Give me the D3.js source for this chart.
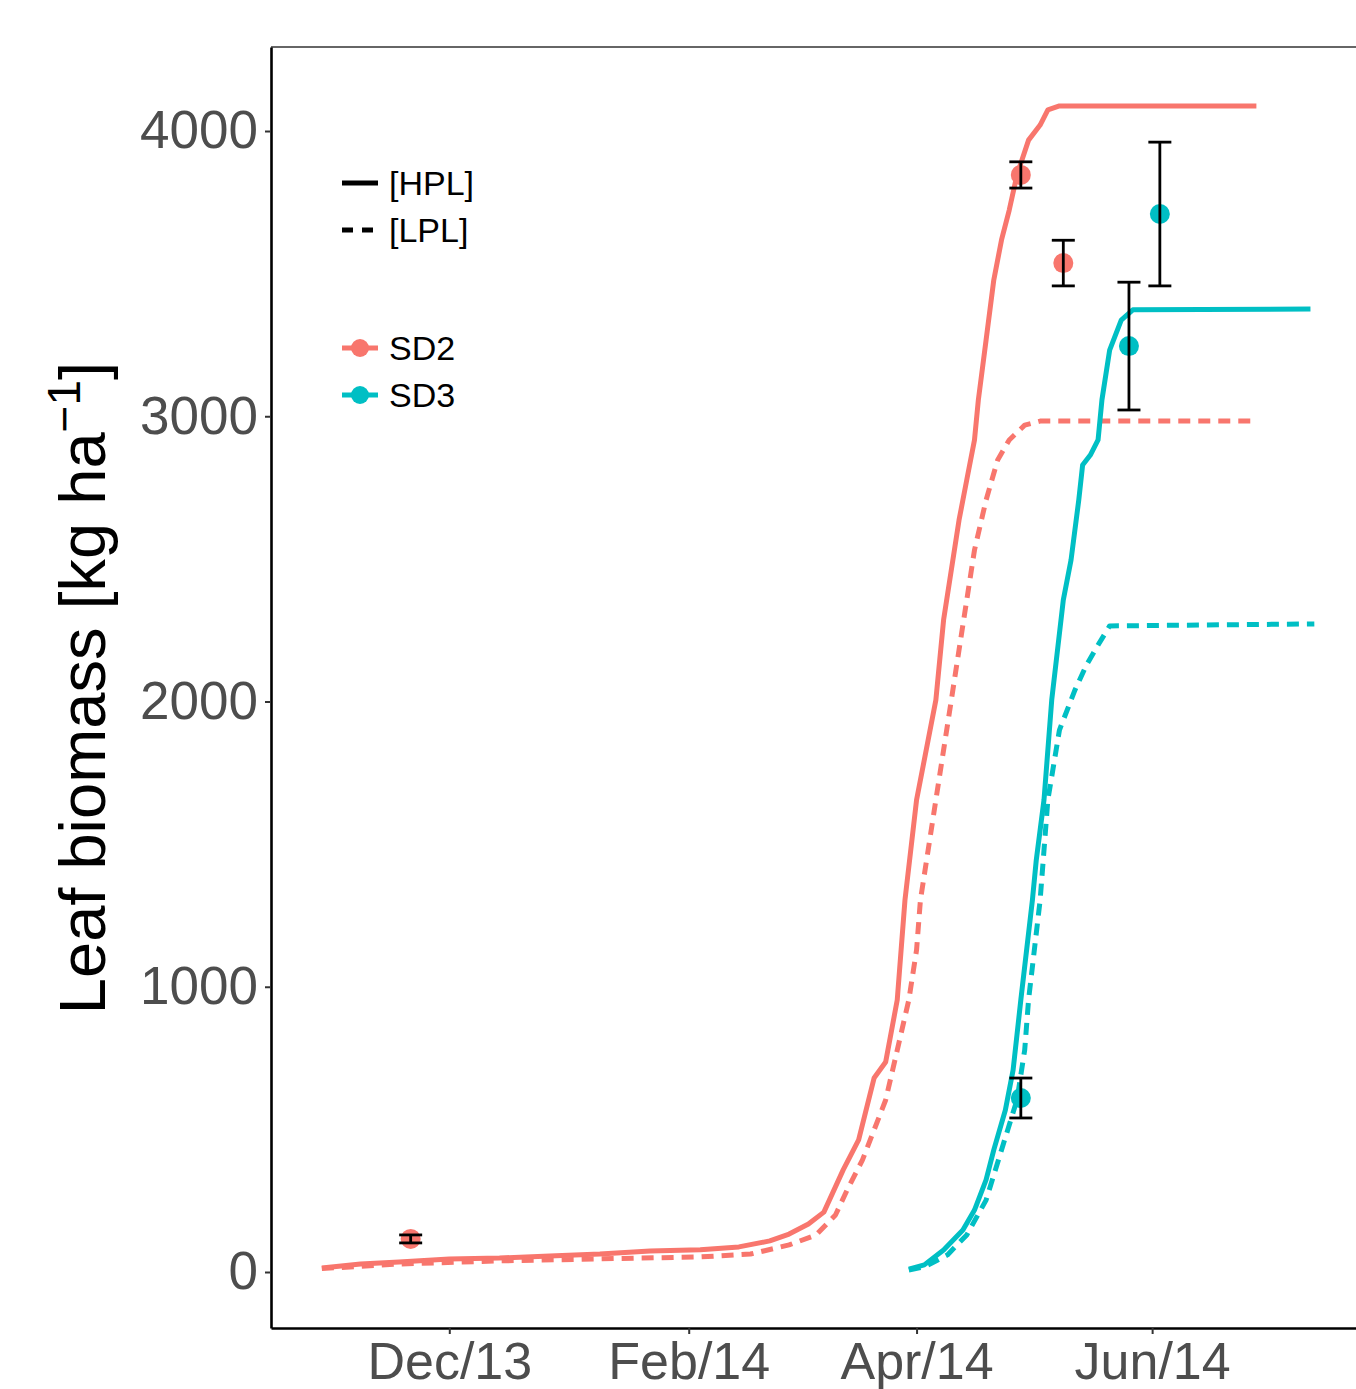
<!DOCTYPE html>
<html>
<head>
<meta charset="utf-8">
<script src="https://cdn.jsdelivr.net/npm/d3@7"></script>
<style>
  html, body { margin: 0; padding: 0; background: #fff; }
  svg { display: block; font-family: "Liberation Sans", Arial, Helvetica, sans-serif; }
</style>
</head>
<body>
<svg id="chart" width="1356" height="1389"></svg>
<script>
// ---------------- data ----------------
const sd2HplDates = ["2013-10-29","2013-11-08","2013-11-18","2013-12-01","2013-12-14","2013-12-27","2014-01-09","2014-01-22","2014-02-04","2014-02-14","2014-02-22","2014-02-27","2014-03-04","2014-03-08","2014-03-13","2014-03-17","2014-03-21","2014-03-24","2014-03-27","2014-03-29","2014-04-01","2014-04-04","2014-04-06","2014-04-08","2014-04-12","2014-04-14","2014-04-16","2014-04-17","2014-04-19","2014-04-21","2014-04-23","2014-04-25","2014-04-27","2014-04-30","2014-05-03","2014-05-05","2014-05-08","2014-06-28"];
const sd2HplValues = [14,28,35,46,49,56,63,74,78,88,109,133,168,210,358,463,680,736,954,1304,1655,1865,2005,2286,2636,2777,2917,3057,3267,3478,3618,3723,3846,3968,4021,4074,4088,4088];

const sd2LplDates = ["2013-10-29","2013-11-18","2013-12-14","2014-01-09","2014-02-04","2014-02-17","2014-02-27","2014-03-06","2014-03-11","2014-03-14","2014-03-18","2014-03-21","2014-03-24","2014-03-27","2014-03-30","2014-04-01","2014-04-02","2014-04-04","2014-04-06","2014-04-08","2014-04-10","2014-04-12","2014-04-14","2014-04-16","2014-04-19","2014-04-22","2014-04-25","2014-04-29","2014-05-03","2014-06-28"];
const sd2LplValues = [12,28,39,46,53,63,95,130,200,287,393,498,603,778,954,1129,1304,1479,1655,1830,2005,2181,2356,2531,2706,2847,2917,2969,2983,2983];

const sd3HplDates = ["2014-03-30","2014-04-03","2014-04-08","2014-04-13","2014-04-16","2014-04-19","2014-04-21","2014-04-24","2014-04-26","2014-04-28","2014-05-01","2014-05-02","2014-05-04","2014-05-06","2014-05-09","2014-05-11","2014-05-13","2014-05-14","2014-05-16","2014-05-18","2014-05-19","2014-05-21","2014-05-24","2014-05-27","2014-07-12"];
const sd3HplValues = [10,25,77,147,217,323,428,568,708,954,1304,1444,1655,2005,2356,2496,2706,2829,2864,2917,3057,3232,3337,3373,3376];

const sd3LplDates = ["2014-03-30","2014-04-03","2014-04-09","2014-04-14","2014-04-19","2014-04-23","2014-04-27","2014-04-29","2014-04-30","2014-05-03","2014-05-04","2014-05-05","2014-05-08","2014-05-09","2014-05-12","2014-05-15","2014-05-18","2014-05-21","2014-07-13"];
const sd3LplValues = [7,18,60,130,252,428,603,778,954,1304,1479,1655,1900,1935,2040,2128,2198,2265,2272];

// observations (mean ± error)
const obsSeries = ["SD2","SD2","SD2","SD3","SD3","SD3"];
const obsDates  = ["2013-11-21","2014-04-28","2014-05-09","2014-04-28","2014-05-26","2014-06-03"];
const obsValues = [116,3846,3537,610,3246,3709];
const obsErrors = [14,46,80,70,224,252];

const xTickDates  = ["2013-12-01","2014-02-01","2014-04-01","2014-06-01"];
const yTickValues = [0,1000,2000,3000,4000];

const lineKeys   = ["[HPL]","[LPL]"];
const seriesKeys = ["SD2","SD3"];
// ---------------------------------------

const colors = { SD2: "#F8766D", SD3: "#00BFC4" };
const parse = d3.utcParse("%Y-%m-%d");

const pLeft = 271, pRight = 1356, pTop = 47, pBottom = 1328;

const x = d3.scaleUtc()
  .domain([new Date(Date.UTC(2013, 9, 15, 20)), new Date(Date.UTC(2014, 6, 23, 19))])
  .range([pLeft, pRight]);
const y = d3.scaleLinear()
  .domain([-196.3, 4294.5])
  .range([pBottom, pTop]);

const svg = d3.select("#chart");
svg.append("rect").attr("width", 1356).attr("height", 1389).attr("fill", "#fff");

// top border
svg.append("line").attr("x1", pLeft).attr("x2", pRight).attr("y1", pTop).attr("y2", pTop)
  .attr("stroke", "#333").attr("stroke-width", 1.4);

// lines
const lineGen = d3.line().x(d => x(d[0])).y(d => y(d[1]));
function series(dates, values) { return dates.map((d, i) => [parse(d), values[i]]); }
const curves = [
  { data: series(sd2HplDates, sd2HplValues), col: colors.SD2, dash: null },
  { data: series(sd2LplDates, sd2LplValues), col: colors.SD2, dash: "12,8" },
  { data: series(sd3HplDates, sd3HplValues), col: colors.SD3, dash: null },
  { data: series(sd3LplDates, sd3LplValues), col: colors.SD3, dash: "12,8" }
];
curves.forEach(c => {
  svg.append("path").datum(c.data)
    .attr("d", lineGen)
    .attr("fill", "none")
    .attr("stroke", c.col)
    .attr("stroke-width", 5)
    .attr("stroke-linejoin", "round")
    .attr("stroke-dasharray", c.dash);
});

// observations
const obs = obsDates.map((d, i) => ({ date: parse(d), v: obsValues[i], e: obsErrors[i], s: obsSeries[i] }));
const og = svg.append("g");
og.selectAll("circle").data(obs).join("circle")
  .attr("cx", d => x(d.date)).attr("cy", d => y(d.v)).attr("r", 10)
  .attr("fill", d => colors[d.s]);
const cap = 11.5;
obs.forEach(d => {
  const cx = x(d.date);
  const g = og.append("g").attr("stroke", "#000").attr("stroke-width", 2.8);
  g.append("line").attr("x1", cx).attr("x2", cx).attr("y1", y(d.v - d.e)).attr("y2", y(d.v + d.e));
  g.append("line").attr("x1", cx - cap).attr("x2", cx + cap).attr("y1", y(d.v - d.e)).attr("y2", y(d.v - d.e));
  g.append("line").attr("x1", cx - cap).attr("x2", cx + cap).attr("y1", y(d.v + d.e)).attr("y2", y(d.v + d.e));
});

// axes
const yAxis = d3.axisLeft(y).tickValues(yTickValues).tickFormat(d3.format("d"))
  .tickSize(6).tickPadding(7).tickSizeOuter(0);
const gy = svg.append("g").attr("transform", `translate(${pLeft},0)`).call(yAxis);
gy.select(".domain").attr("stroke", "#000").attr("stroke-width", 2.6);
gy.selectAll(".tick line").attr("stroke", "#333").attr("stroke-width", 2);
gy.selectAll(".tick text").attr("fill", "#4D4D4D").style("font-size", "53px")
  .style("font-family", "'Liberation Sans', Arial, sans-serif");

const xAxis = d3.axisBottom(x).tickValues(xTickDates.map(parse)).tickFormat(d3.utcFormat("%b/%y"))
  .tickSize(6).tickPadding(8).tickSizeOuter(0);
const gx = svg.append("g").attr("transform", `translate(0,${pBottom})`).call(xAxis);
gx.select(".domain").attr("stroke", "#000").attr("stroke-width", 2.6);
gx.selectAll(".tick line").attr("stroke", "#333").attr("stroke-width", 2);
gx.selectAll(".tick text").attr("fill", "#4D4D4D").style("font-size", "52px")
  .style("font-family", "'Liberation Sans', Arial, sans-serif");

// y title
const yt = svg.append("text")
  .attr("transform", "translate(105,688) rotate(-90)")
  .attr("text-anchor", "middle")
  .attr("fill", "#000")
  .style("font-size", "65px");
yt.append("tspan").text("Leaf biomass [kg ha");
yt.append("tspan").attr("dy", "-0.55em").style("font-size", "46px").text("\u22121");
yt.append("tspan").attr("dy", "0.39em").text("]");

// legend
const lg = svg.append("g");
lineKeys.forEach((k, i) => {
  const yy = 183 + i * 47;
  lg.append("line").attr("x1", 342).attr("x2", 378).attr("y1", yy).attr("y2", yy)
    .attr("stroke", "#000").attr("stroke-width", 5)
    .attr("stroke-dasharray", i === 1 ? "11,9" : null);
  lg.append("text").attr("x", 389).attr("y", yy).attr("dy", "0.35em")
    .style("font-size", "34px").attr("fill", "#000").text(k);
});
seriesKeys.forEach((k, i) => {
  const yy = 348 + i * 47;
  lg.append("line").attr("x1", 342).attr("x2", 378).attr("y1", yy).attr("y2", yy)
    .attr("stroke", colors[k]).attr("stroke-width", 5);
  lg.append("circle").attr("cx", 360).attr("cy", yy).attr("r", 9).attr("fill", colors[k]);
  lg.append("text").attr("x", 389).attr("y", yy).attr("dy", "0.35em")
    .style("font-size", "34px").attr("fill", "#000").text(k);
});
</script>
</body>
</html>
